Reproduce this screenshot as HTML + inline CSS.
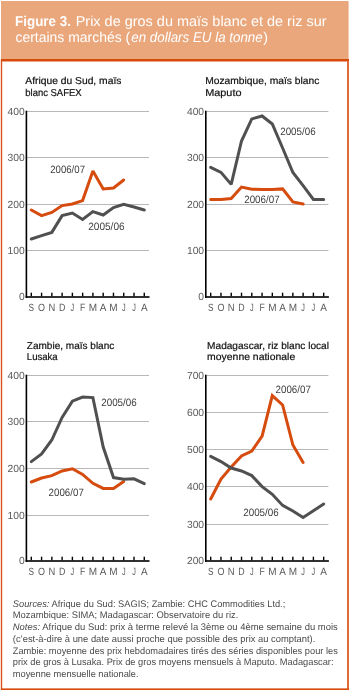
<!DOCTYPE html>
<html><head><meta charset="utf-8"><style>
html,body{margin:0;padding:0;background:#fff;}
body{width:350px;height:690px;position:relative;overflow:hidden;font-family:"Liberation Sans", sans-serif;}
svg{position:absolute;left:0;top:0;will-change:transform;text-rendering:geometricPrecision;}
</style></head><body>
<svg width="350" height="690" viewBox="0 0 350 690" font-family='"Liberation Sans", sans-serif'>
<rect x="1" y="1" width="347.6" height="58" fill="#EAA77C"/>
<rect x="1" y="59" width="348" height="2.5" fill="#D84A0C"/>
<rect x="0.8" y="59" width="1.4" height="631" fill="#D9501A"/>
<rect x="347" y="61" width="2" height="629" fill="#E06B38"/>
<rect x="1" y="688.4" width="348" height="1.6" fill="#D84A0C"/>
<g font-size="14.3" fill="#fff">
<text x="15.0" y="25.7" font-weight="bold" textLength="56" lengthAdjust="spacingAndGlyphs">Figure 3.</text>
<text x="75.7" y="25.7" textLength="250.8" lengthAdjust="spacingAndGlyphs">Prix de gros du maïs blanc et de riz sur</text>
<text x="15.5" y="42.4" textLength="114.7" lengthAdjust="spacingAndGlyphs">certains marchés (</text>
<text x="131.3" y="42.4" font-style="italic" textLength="131.4" lengthAdjust="spacingAndGlyphs">en dollars EU la tonne</text>
<text x="263.3" y="42.4">)</text>
</g>
<rect x="27.00" y="111" width="122.00" height="1" fill="#B8B8B8"/>
<text x="24.70" y="114.60" font-size="10.3" fill="#5a5a5a" text-anchor="end">400</text>
<rect x="27.00" y="157" width="122.00" height="1" fill="#B8B8B8"/>
<text x="24.70" y="160.60" font-size="10.3" fill="#5a5a5a" text-anchor="end">300</text>
<rect x="27.00" y="204" width="122.00" height="1" fill="#B8B8B8"/>
<text x="24.70" y="207.60" font-size="10.3" fill="#5a5a5a" text-anchor="end">200</text>
<rect x="27.00" y="250" width="122.00" height="1" fill="#B8B8B8"/>
<text x="24.70" y="253.60" font-size="10.3" fill="#5a5a5a" text-anchor="end">100</text>
<text x="24.70" y="300.10" font-size="10.3" fill="#5a5a5a" text-anchor="end">0</text>
<rect x="25.60" y="110.70" width="1.6" height="187.10" fill="#000"/>
<rect x="25.60" y="296.20" width="123.90" height="1.6" fill="#000"/>
<rect x="30.60" y="292.70" width="1.4" height="3.6" fill="#000"/>
<text x="31.30" y="310.80" font-size="10.5" fill="#5a5a5a" text-anchor="middle" textLength="5.5" lengthAdjust="spacingAndGlyphs">S</text>
<rect x="40.87" y="292.70" width="1.4" height="3.6" fill="#000"/>
<text x="41.57" y="310.80" font-size="10.5" fill="#5a5a5a" text-anchor="middle" textLength="7.0" lengthAdjust="spacingAndGlyphs">O</text>
<rect x="51.14" y="292.70" width="1.4" height="3.6" fill="#000"/>
<text x="51.84" y="310.80" font-size="10.5" fill="#5a5a5a" text-anchor="middle" textLength="6.8" lengthAdjust="spacingAndGlyphs">N</text>
<rect x="61.41" y="292.70" width="1.4" height="3.6" fill="#000"/>
<text x="62.11" y="310.80" font-size="10.5" fill="#5a5a5a" text-anchor="middle" textLength="6.4" lengthAdjust="spacingAndGlyphs">D</text>
<rect x="71.68" y="292.70" width="1.4" height="3.6" fill="#000"/>
<text x="72.38" y="310.80" font-size="10.5" fill="#5a5a5a" text-anchor="middle" textLength="3.65" lengthAdjust="spacingAndGlyphs">J</text>
<rect x="81.95" y="292.70" width="1.4" height="3.6" fill="#000"/>
<text x="82.65" y="310.80" font-size="10.5" fill="#5a5a5a" text-anchor="middle" textLength="5.25" lengthAdjust="spacingAndGlyphs">F</text>
<rect x="92.22" y="292.70" width="1.4" height="3.6" fill="#000"/>
<text x="92.92" y="310.80" font-size="10.5" fill="#5a5a5a" text-anchor="middle" textLength="8.33" lengthAdjust="spacingAndGlyphs">M</text>
<rect x="102.49" y="292.70" width="1.4" height="3.6" fill="#000"/>
<text x="103.19" y="310.80" font-size="10.5" fill="#5a5a5a" text-anchor="middle" textLength="6.67" lengthAdjust="spacingAndGlyphs">A</text>
<rect x="112.76" y="292.70" width="1.4" height="3.6" fill="#000"/>
<text x="113.46" y="310.80" font-size="10.5" fill="#5a5a5a" text-anchor="middle" textLength="8.33" lengthAdjust="spacingAndGlyphs">M</text>
<rect x="123.03" y="292.70" width="1.4" height="3.6" fill="#000"/>
<text x="123.73" y="310.80" font-size="10.5" fill="#5a5a5a" text-anchor="middle" textLength="3.65" lengthAdjust="spacingAndGlyphs">J</text>
<rect x="133.30" y="292.70" width="1.4" height="3.6" fill="#000"/>
<text x="134.00" y="310.80" font-size="10.5" fill="#5a5a5a" text-anchor="middle" textLength="3.65" lengthAdjust="spacingAndGlyphs">J</text>
<rect x="143.57" y="292.70" width="1.4" height="3.6" fill="#000"/>
<text x="144.27" y="310.80" font-size="10.5" fill="#5a5a5a" text-anchor="middle" textLength="6.67" lengthAdjust="spacingAndGlyphs">A</text>
<text x="25.3" y="83.90" font-size="10" fill="#111" text-anchor="start" textLength="96.1" lengthAdjust="spacingAndGlyphs" stroke="#111" stroke-width="0.2">Afrique du Sud, maïs</text>
<text x="25.3" y="95.70" font-size="10" fill="#111" text-anchor="start" textLength="56.3" lengthAdjust="spacingAndGlyphs" stroke="#111" stroke-width="0.2">blanc SAFEX</text>
<polyline points="31.3,210.0 41.6,215.6 51.8,212.4 62.1,205.6 72.4,204.0 82.6,200.6 92.9,171.0 103.2,189.0 113.5,188.0 123.7,180.0" fill="none" stroke="#D64B0E" stroke-width="3" stroke-linejoin="miter" stroke-miterlimit="2" stroke-linecap="round"/>
<polyline points="31.3,239.0 41.6,235.6 51.8,232.4 62.1,215.6 72.4,213.0 82.6,219.4 92.9,211.6 103.2,215.0 113.5,207.6 123.7,204.4 134.0,207.0 144.3,210.0" fill="none" stroke="#505050" stroke-width="3" stroke-linejoin="miter" stroke-miterlimit="2" stroke-linecap="round"/>
<text x="50.2" y="173.3" font-size="10.6" fill="#404040" text-anchor="start" textLength="34.8" lengthAdjust="spacingAndGlyphs">2006/07</text>
<text x="88.2" y="230.3" font-size="10.6" fill="#404040" text-anchor="start" textLength="36.4" lengthAdjust="spacingAndGlyphs">2005/06</text>
<rect x="206.40" y="111" width="122.00" height="1" fill="#B8B8B8"/>
<text x="204.10" y="114.60" font-size="10.3" fill="#5a5a5a" text-anchor="end">400</text>
<rect x="206.40" y="157" width="122.00" height="1" fill="#B8B8B8"/>
<text x="204.10" y="160.60" font-size="10.3" fill="#5a5a5a" text-anchor="end">300</text>
<rect x="206.40" y="204" width="122.00" height="1" fill="#B8B8B8"/>
<text x="204.10" y="207.60" font-size="10.3" fill="#5a5a5a" text-anchor="end">200</text>
<rect x="206.40" y="250" width="122.00" height="1" fill="#B8B8B8"/>
<text x="204.10" y="253.60" font-size="10.3" fill="#5a5a5a" text-anchor="end">100</text>
<text x="204.10" y="300.10" font-size="10.3" fill="#5a5a5a" text-anchor="end">0</text>
<rect x="205.00" y="110.70" width="1.6" height="187.10" fill="#000"/>
<rect x="205.00" y="296.20" width="123.90" height="1.6" fill="#000"/>
<rect x="210.00" y="292.70" width="1.4" height="3.6" fill="#000"/>
<text x="210.70" y="310.80" font-size="10.5" fill="#5a5a5a" text-anchor="middle" textLength="5.5" lengthAdjust="spacingAndGlyphs">S</text>
<rect x="220.27" y="292.70" width="1.4" height="3.6" fill="#000"/>
<text x="220.97" y="310.80" font-size="10.5" fill="#5a5a5a" text-anchor="middle" textLength="7.0" lengthAdjust="spacingAndGlyphs">O</text>
<rect x="230.54" y="292.70" width="1.4" height="3.6" fill="#000"/>
<text x="231.24" y="310.80" font-size="10.5" fill="#5a5a5a" text-anchor="middle" textLength="6.8" lengthAdjust="spacingAndGlyphs">N</text>
<rect x="240.81" y="292.70" width="1.4" height="3.6" fill="#000"/>
<text x="241.51" y="310.80" font-size="10.5" fill="#5a5a5a" text-anchor="middle" textLength="6.4" lengthAdjust="spacingAndGlyphs">D</text>
<rect x="251.08" y="292.70" width="1.4" height="3.6" fill="#000"/>
<text x="251.78" y="310.80" font-size="10.5" fill="#5a5a5a" text-anchor="middle" textLength="3.65" lengthAdjust="spacingAndGlyphs">J</text>
<rect x="261.35" y="292.70" width="1.4" height="3.6" fill="#000"/>
<text x="262.05" y="310.80" font-size="10.5" fill="#5a5a5a" text-anchor="middle" textLength="5.25" lengthAdjust="spacingAndGlyphs">F</text>
<rect x="271.62" y="292.70" width="1.4" height="3.6" fill="#000"/>
<text x="272.32" y="310.80" font-size="10.5" fill="#5a5a5a" text-anchor="middle" textLength="8.33" lengthAdjust="spacingAndGlyphs">M</text>
<rect x="281.89" y="292.70" width="1.4" height="3.6" fill="#000"/>
<text x="282.59" y="310.80" font-size="10.5" fill="#5a5a5a" text-anchor="middle" textLength="6.67" lengthAdjust="spacingAndGlyphs">A</text>
<rect x="292.16" y="292.70" width="1.4" height="3.6" fill="#000"/>
<text x="292.86" y="310.80" font-size="10.5" fill="#5a5a5a" text-anchor="middle" textLength="8.33" lengthAdjust="spacingAndGlyphs">M</text>
<rect x="302.43" y="292.70" width="1.4" height="3.6" fill="#000"/>
<text x="303.13" y="310.80" font-size="10.5" fill="#5a5a5a" text-anchor="middle" textLength="3.65" lengthAdjust="spacingAndGlyphs">J</text>
<rect x="312.70" y="292.70" width="1.4" height="3.6" fill="#000"/>
<text x="313.40" y="310.80" font-size="10.5" fill="#5a5a5a" text-anchor="middle" textLength="3.65" lengthAdjust="spacingAndGlyphs">J</text>
<rect x="322.97" y="292.70" width="1.4" height="3.6" fill="#000"/>
<text x="323.67" y="310.80" font-size="10.5" fill="#5a5a5a" text-anchor="middle" textLength="6.67" lengthAdjust="spacingAndGlyphs">A</text>
<text x="205.2" y="83.90" font-size="10" fill="#111" text-anchor="start" textLength="114.1" lengthAdjust="spacingAndGlyphs" stroke="#111" stroke-width="0.2">Mozambique, maïs blanc</text>
<text x="205.2" y="95.70" font-size="10" fill="#111" text-anchor="start" textLength="36.3" lengthAdjust="spacingAndGlyphs" stroke="#111" stroke-width="0.2">Maputo</text>
<polyline points="210.7,199.5 221.0,199.5 231.2,198.6 241.5,187.1 251.8,189.2 262.1,189.4 272.3,189.6 282.6,188.9 292.9,202.0 303.1,204.0" fill="none" stroke="#D64B0E" stroke-width="3" stroke-linejoin="miter" stroke-miterlimit="2" stroke-linecap="round"/>
<polyline points="210.7,167.4 221.0,172.4 231.2,184.4 241.5,141.0 251.8,118.9 262.1,116.0 272.3,124.0 282.6,148.0 292.9,172.5 303.1,185.7 313.4,199.4 323.7,199.4" fill="none" stroke="#505050" stroke-width="3" stroke-linejoin="miter" stroke-miterlimit="2" stroke-linecap="round"/>
<text x="244.2" y="203.1" font-size="10.6" fill="#404040" text-anchor="start" textLength="35.4" lengthAdjust="spacingAndGlyphs">2006/07</text>
<text x="280.2" y="134.5" font-size="10.6" fill="#404040" text-anchor="start" textLength="35.4" lengthAdjust="spacingAndGlyphs">2005/06</text>
<rect x="27.00" y="375" width="122.00" height="1" fill="#B8B8B8"/>
<text x="24.70" y="378.60" font-size="10.3" fill="#5a5a5a" text-anchor="end">400</text>
<rect x="27.00" y="421" width="122.00" height="1" fill="#B8B8B8"/>
<text x="24.70" y="424.60" font-size="10.3" fill="#5a5a5a" text-anchor="end">300</text>
<rect x="27.00" y="468" width="122.00" height="1" fill="#B8B8B8"/>
<text x="24.70" y="471.60" font-size="10.3" fill="#5a5a5a" text-anchor="end">200</text>
<rect x="27.00" y="515" width="122.00" height="1" fill="#B8B8B8"/>
<text x="24.70" y="518.60" font-size="10.3" fill="#5a5a5a" text-anchor="end">100</text>
<text x="24.70" y="564.10" font-size="10.3" fill="#5a5a5a" text-anchor="end">0</text>
<rect x="25.60" y="374.70" width="1.6" height="187.10" fill="#000"/>
<rect x="25.60" y="560.20" width="123.90" height="1.6" fill="#000"/>
<rect x="30.60" y="556.70" width="1.4" height="3.6" fill="#000"/>
<text x="31.30" y="574.80" font-size="10.5" fill="#5a5a5a" text-anchor="middle" textLength="5.5" lengthAdjust="spacingAndGlyphs">S</text>
<rect x="40.87" y="556.70" width="1.4" height="3.6" fill="#000"/>
<text x="41.57" y="574.80" font-size="10.5" fill="#5a5a5a" text-anchor="middle" textLength="7.0" lengthAdjust="spacingAndGlyphs">O</text>
<rect x="51.14" y="556.70" width="1.4" height="3.6" fill="#000"/>
<text x="51.84" y="574.80" font-size="10.5" fill="#5a5a5a" text-anchor="middle" textLength="6.8" lengthAdjust="spacingAndGlyphs">N</text>
<rect x="61.41" y="556.70" width="1.4" height="3.6" fill="#000"/>
<text x="62.11" y="574.80" font-size="10.5" fill="#5a5a5a" text-anchor="middle" textLength="6.4" lengthAdjust="spacingAndGlyphs">D</text>
<rect x="71.68" y="556.70" width="1.4" height="3.6" fill="#000"/>
<text x="72.38" y="574.80" font-size="10.5" fill="#5a5a5a" text-anchor="middle" textLength="3.65" lengthAdjust="spacingAndGlyphs">J</text>
<rect x="81.95" y="556.70" width="1.4" height="3.6" fill="#000"/>
<text x="82.65" y="574.80" font-size="10.5" fill="#5a5a5a" text-anchor="middle" textLength="5.25" lengthAdjust="spacingAndGlyphs">F</text>
<rect x="92.22" y="556.70" width="1.4" height="3.6" fill="#000"/>
<text x="92.92" y="574.80" font-size="10.5" fill="#5a5a5a" text-anchor="middle" textLength="8.33" lengthAdjust="spacingAndGlyphs">M</text>
<rect x="102.49" y="556.70" width="1.4" height="3.6" fill="#000"/>
<text x="103.19" y="574.80" font-size="10.5" fill="#5a5a5a" text-anchor="middle" textLength="6.67" lengthAdjust="spacingAndGlyphs">A</text>
<rect x="112.76" y="556.70" width="1.4" height="3.6" fill="#000"/>
<text x="113.46" y="574.80" font-size="10.5" fill="#5a5a5a" text-anchor="middle" textLength="8.33" lengthAdjust="spacingAndGlyphs">M</text>
<rect x="123.03" y="556.70" width="1.4" height="3.6" fill="#000"/>
<text x="123.73" y="574.80" font-size="10.5" fill="#5a5a5a" text-anchor="middle" textLength="3.65" lengthAdjust="spacingAndGlyphs">J</text>
<rect x="133.30" y="556.70" width="1.4" height="3.6" fill="#000"/>
<text x="134.00" y="574.80" font-size="10.5" fill="#5a5a5a" text-anchor="middle" textLength="3.65" lengthAdjust="spacingAndGlyphs">J</text>
<rect x="143.57" y="556.70" width="1.4" height="3.6" fill="#000"/>
<text x="144.27" y="574.80" font-size="10.5" fill="#5a5a5a" text-anchor="middle" textLength="6.67" lengthAdjust="spacingAndGlyphs">A</text>
<text x="26.8" y="348.50" font-size="10" fill="#111" text-anchor="start" textLength="87.5" lengthAdjust="spacingAndGlyphs" stroke="#111" stroke-width="0.2">Zambie, maïs blanc</text>
<text x="26.8" y="360.30" font-size="10" fill="#111" text-anchor="start" textLength="30.9" lengthAdjust="spacingAndGlyphs" stroke="#111" stroke-width="0.2">Lusaka</text>
<polyline points="31.3,482.0 41.6,478.0 51.8,475.6 62.1,471.0 72.4,468.8 82.6,474.4 92.9,483.3 103.2,488.4 113.5,488.4 123.7,481.6" fill="none" stroke="#D64B0E" stroke-width="3" stroke-linejoin="miter" stroke-miterlimit="2" stroke-linecap="round"/>
<polyline points="31.3,461.6 41.6,453.9 51.8,440.0 62.1,417.4 72.4,401.1 82.6,397.0 92.9,397.6 103.2,447.0 113.5,477.6 123.7,479.2 134.0,478.8 144.3,483.6" fill="none" stroke="#505050" stroke-width="3" stroke-linejoin="miter" stroke-miterlimit="2" stroke-linecap="round"/>
<text x="48.6" y="496.1" font-size="10.6" fill="#404040" text-anchor="start" textLength="35.2" lengthAdjust="spacingAndGlyphs">2006/07</text>
<text x="101.2" y="406.1" font-size="10.6" fill="#404040" text-anchor="start" textLength="35.6" lengthAdjust="spacingAndGlyphs">2005/06</text>
<rect x="206.40" y="375" width="122.00" height="1" fill="#B8B8B8"/>
<text x="204.10" y="378.60" font-size="10.3" fill="#5a5a5a" text-anchor="end">700</text>
<rect x="206.40" y="412" width="122.00" height="1" fill="#B8B8B8"/>
<text x="204.10" y="415.60" font-size="10.3" fill="#5a5a5a" text-anchor="end">600</text>
<rect x="206.40" y="449" width="122.00" height="1" fill="#B8B8B8"/>
<text x="204.10" y="452.60" font-size="10.3" fill="#5a5a5a" text-anchor="end">500</text>
<rect x="206.40" y="486" width="122.00" height="1" fill="#B8B8B8"/>
<text x="204.10" y="489.60" font-size="10.3" fill="#5a5a5a" text-anchor="end">400</text>
<rect x="206.40" y="524" width="122.00" height="1" fill="#B8B8B8"/>
<text x="204.10" y="527.60" font-size="10.3" fill="#5a5a5a" text-anchor="end">300</text>
<text x="204.10" y="564.10" font-size="10.3" fill="#5a5a5a" text-anchor="end">200</text>
<rect x="205.00" y="374.70" width="1.6" height="187.10" fill="#000"/>
<rect x="205.00" y="560.20" width="123.90" height="1.6" fill="#000"/>
<rect x="210.00" y="556.70" width="1.4" height="3.6" fill="#000"/>
<text x="210.70" y="574.80" font-size="10.5" fill="#5a5a5a" text-anchor="middle" textLength="5.5" lengthAdjust="spacingAndGlyphs">S</text>
<rect x="220.27" y="556.70" width="1.4" height="3.6" fill="#000"/>
<text x="220.97" y="574.80" font-size="10.5" fill="#5a5a5a" text-anchor="middle" textLength="7.0" lengthAdjust="spacingAndGlyphs">O</text>
<rect x="230.54" y="556.70" width="1.4" height="3.6" fill="#000"/>
<text x="231.24" y="574.80" font-size="10.5" fill="#5a5a5a" text-anchor="middle" textLength="6.8" lengthAdjust="spacingAndGlyphs">N</text>
<rect x="240.81" y="556.70" width="1.4" height="3.6" fill="#000"/>
<text x="241.51" y="574.80" font-size="10.5" fill="#5a5a5a" text-anchor="middle" textLength="6.4" lengthAdjust="spacingAndGlyphs">D</text>
<rect x="251.08" y="556.70" width="1.4" height="3.6" fill="#000"/>
<text x="251.78" y="574.80" font-size="10.5" fill="#5a5a5a" text-anchor="middle" textLength="3.65" lengthAdjust="spacingAndGlyphs">J</text>
<rect x="261.35" y="556.70" width="1.4" height="3.6" fill="#000"/>
<text x="262.05" y="574.80" font-size="10.5" fill="#5a5a5a" text-anchor="middle" textLength="5.25" lengthAdjust="spacingAndGlyphs">F</text>
<rect x="271.62" y="556.70" width="1.4" height="3.6" fill="#000"/>
<text x="272.32" y="574.80" font-size="10.5" fill="#5a5a5a" text-anchor="middle" textLength="8.33" lengthAdjust="spacingAndGlyphs">M</text>
<rect x="281.89" y="556.70" width="1.4" height="3.6" fill="#000"/>
<text x="282.59" y="574.80" font-size="10.5" fill="#5a5a5a" text-anchor="middle" textLength="6.67" lengthAdjust="spacingAndGlyphs">A</text>
<rect x="292.16" y="556.70" width="1.4" height="3.6" fill="#000"/>
<text x="292.86" y="574.80" font-size="10.5" fill="#5a5a5a" text-anchor="middle" textLength="8.33" lengthAdjust="spacingAndGlyphs">M</text>
<rect x="302.43" y="556.70" width="1.4" height="3.6" fill="#000"/>
<text x="303.13" y="574.80" font-size="10.5" fill="#5a5a5a" text-anchor="middle" textLength="3.65" lengthAdjust="spacingAndGlyphs">J</text>
<rect x="312.70" y="556.70" width="1.4" height="3.6" fill="#000"/>
<text x="313.40" y="574.80" font-size="10.5" fill="#5a5a5a" text-anchor="middle" textLength="3.65" lengthAdjust="spacingAndGlyphs">J</text>
<rect x="322.97" y="556.70" width="1.4" height="3.6" fill="#000"/>
<text x="323.67" y="574.80" font-size="10.5" fill="#5a5a5a" text-anchor="middle" textLength="6.67" lengthAdjust="spacingAndGlyphs">A</text>
<text x="207.1" y="348.50" font-size="10" fill="#111" text-anchor="start" textLength="121.9" lengthAdjust="spacingAndGlyphs" stroke="#111" stroke-width="0.2">Madagascar, riz blanc local</text>
<text x="207.1" y="360.30" font-size="10" fill="#111" text-anchor="start" textLength="88.1" lengthAdjust="spacingAndGlyphs" stroke="#111" stroke-width="0.2">moyenne nationale</text>
<polyline points="210.7,499.0 221.0,479.0 231.2,467.0 241.5,456.0 251.8,451.0 262.1,436.0 272.3,395.6 282.6,405.0 292.9,445.0 303.1,462.4" fill="none" stroke="#D64B0E" stroke-width="3" stroke-linejoin="miter" stroke-miterlimit="2" stroke-linecap="round"/>
<polyline points="210.7,456.4 221.0,461.6 231.2,468.0 241.5,471.0 251.8,475.6 262.1,486.6 272.3,494.3 282.6,505.4 292.9,511.0 303.1,517.4 313.4,510.7 323.7,504.0" fill="none" stroke="#505050" stroke-width="3" stroke-linejoin="miter" stroke-miterlimit="2" stroke-linecap="round"/>
<text x="275.6" y="393.1" font-size="10.6" fill="#404040" text-anchor="start" textLength="35.2" lengthAdjust="spacingAndGlyphs">2006/07</text>
<text x="243.2" y="516.1" font-size="10.6" fill="#404040" text-anchor="start" textLength="35.6" lengthAdjust="spacingAndGlyphs">2005/06</text>
<g font-size="9.5" fill="#4a4a4a">
<text x="12.8" y="606.50" textLength="272.5" lengthAdjust="spacingAndGlyphs"><tspan font-style="italic">Sources:</tspan> Afrique du Sud: SAGIS; Zambie: CHC Commodities Ltd.;</text>
<text x="12.8" y="618.27" textLength="225.5" lengthAdjust="spacingAndGlyphs">Mozambique: SIMA; Madagascar: Observatoire du riz.</text>
<text x="12.8" y="630.04" textLength="325" lengthAdjust="spacingAndGlyphs"><tspan font-style="italic">Notes:</tspan> Afrique du Sud: prix à terme relevé la 3ème ou 4ème semaine du mois</text>
<text x="12.8" y="641.81" textLength="302.5" lengthAdjust="spacingAndGlyphs">(c’est-à-dire à une date aussi proche que possible des prix au comptant).</text>
<text x="12.8" y="653.58" textLength="325" lengthAdjust="spacingAndGlyphs">Zambie: moyenne des prix hebdomadaires tirés des séries disponibles pour les</text>
<text x="12.8" y="665.35" textLength="320.7" lengthAdjust="spacingAndGlyphs">prix de gros à Lusaka. Prix de gros moyens mensuels à Maputo. Madagascar:</text>
<text x="12.8" y="677.12" textLength="125.8" lengthAdjust="spacingAndGlyphs">moyenne mensuelle nationale.</text>
</g>
</svg>
</body></html>
